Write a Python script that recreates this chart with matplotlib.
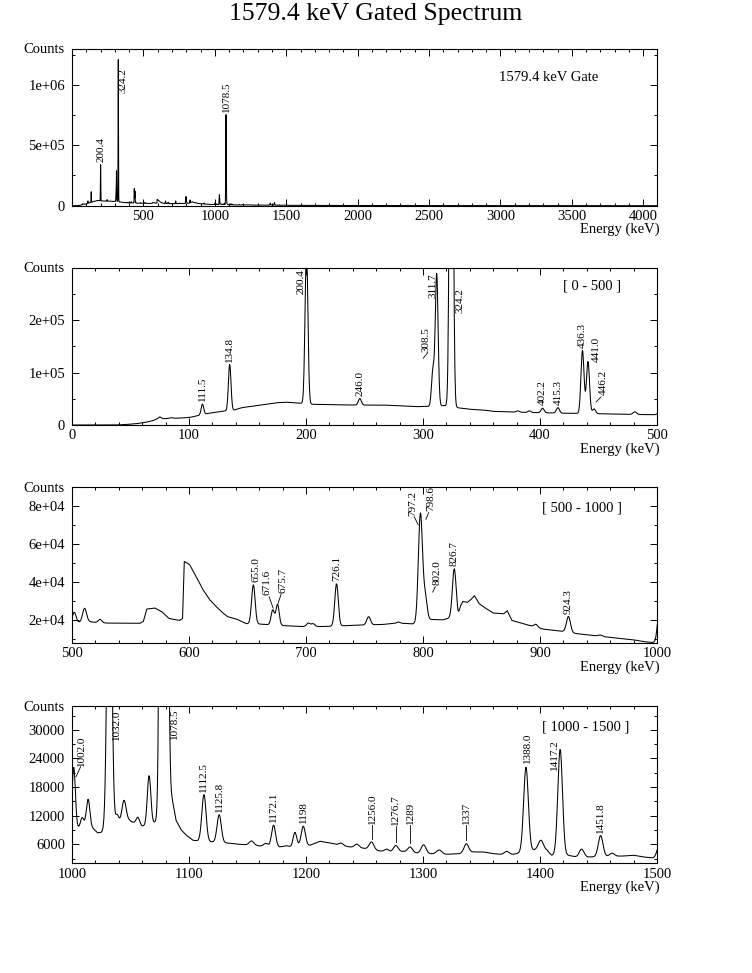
import numpy as np
import matplotlib
matplotlib.use('Agg')
import matplotlib.pyplot as plt
from matplotlib.ticker import AutoMinorLocator

plt.rcParams['font.family'] = ['Liberation Serif', 'DejaVu Serif']

# --- spectrum: background knots + peaks (keV, counts) ---
bg_energy = [0, 38, 45, 55, 61, 66, 70, 73, 75, 78, 82, 85, 88, 95, 101, 106, 116, 129, 136, 139,
             145, 160, 175, 183, 195, 206, 226, 243, 255, 267, 285, 295, 304, 318, 331, 340, 352,
             360, 380, 400, 420, 450, 470, 490, 500, 505, 515, 520, 530, 558, 561, 564, 571, 577,
             583, 592, 594.5, 596, 600.6, 606, 612, 617.7, 623, 629, 633, 640.6, 649, 660, 680,
             695, 715, 740, 766, 776, 779, 782, 791, 800, 807, 817, 821, 830, 832, 834, 838, 841,
             844, 848, 852, 860, 869, 872, 876, 886, 903, 920, 932, 952, 966, 980, 989, 996, 1000,
             1005, 1011, 1018, 1022, 1025, 1028, 1036, 1041, 1049, 1053, 1060, 1063, 1069, 1073,
             1080, 1084, 1086, 1089, 1093.4, 1097.7, 1103.4, 1108, 1119, 1132, 1143, 1160.6,
             1177.7, 1183.4, 1187.7, 1194, 1203.4, 1212, 1220.6, 1229, 1237.7, 1246, 1263, 1273,
             1283, 1294.6, 1306, 1320, 1331.7, 1343, 1351.6, 1360, 1366, 1377, 1383, 1395, 1406,
             1410, 1424, 1431.5, 1441.5, 1458.7, 1471.5, 1480, 1488.6, 1497, 1500, 1600, 1800,
             2000, 2500, 3000, 3500, 4096]
bg_counts = [0, 0, 800, 2500, 4500, 6500, 9000, 12000, 15500, 12000, 12500, 14000, 12800, 13500,
             14600, 17000, 22000, 26500, 27500, 28700, 33000, 37500, 42500, 43500, 41500, 39500,
             38500, 38000, 38000, 38000, 36000, 35000, 35500, 37000, 32500, 30000, 28500, 26000,
             24500, 23500, 22500, 21500, 20500, 19800, 19500, 19000, 19300, 19000, 18600, 18500,
             19500, 26000, 26500, 24500, 21000, 20000, 21000, 51000, 49300, 43200, 36100, 30900,
             27400, 23900, 22000, 20700, 18300, 18100, 17300, 16800, 16800, 17400, 17900, 18500,
             19200, 18500, 18200, 19000, 20500, 20300, 21000, 22000, 27500, 30000, 29500, 31000,
             33000, 28800, 27000, 23900, 23500, 25100, 20000, 18200, 15400, 14200, 13000, 11600,
             10700, 9800, 8800, 8400, 9000, 9400, 9700, 9300, 8400, 8500, 9000, 9800, 10500,
             11000, 10500, 9800, 9900, 10300, 11000, 14000, 17000, 15000, 11000, 9000, 7900, 6840,
             6700, 6500, 6280, 6000, 5650, 5440, 5700, 5440, 5800, 5790, 6630, 6280, 5790, 5440,
             5300, 4600, 4390, 4500, 4170, 4030, 3900, 4030, 4390, 4390, 4030, 3900, 3900, 4200,
             4800, 4700, 3680, 3680, 3330, 3330, 3470, 3540, 3700, 3330, 3120, 3200, 2500, 1800,
             1400, 900, 600, 400, 200]

peak_energy = [111.5, 134.8, 200.4, 246.0, 308.5, 311.7, 324.2, 381.0, 391.0, 402.2, 415.3,
               436.3, 441.0, 446.2, 481.0, 502.0, 510.8, 524.0, 655.0, 671.6, 675.7, 702.0,
               706.0, 726.1, 753.5, 797.2, 798.6, 802.0, 826.7, 896.5, 924.3, 951.5, 1001.5,
               1008.7, 1013.8, 1032.0, 1038.5, 1044.5, 1056.3, 1065.9, 1078.5, 1112.8, 1125.8,
               1153.5, 1165.7, 1172.3, 1190.5, 1197.7, 1230.0, 1243.4, 1256.0, 1269.0, 1276.7,
               1289.0, 1300.5, 1313.8, 1337.0, 1371.5, 1388.0, 1400.7, 1417.2, 1435.5, 1451.8,
               1461.5, 1502.0]
peak_height = [20000, 88000, 300000, 12500, 68000, 251000, 1175000, 2500, 3000, 8500, 10300,
               120000, 99000, 9000, 5000, 5000, 7200, 1700, 20500, 7800, 10900, 1800,
               1500, 22200, 4300, 35000, 28000, 12400, 25500, 1500, 8300, 700, 13000,
               2000, 5900, 81000, 2000, 4500, 1500, 10300, 740000, 9800, 5800,
               900, 600, 4500, 2900, 4000, 500, 700, 1600, 500, 1300,
               1100, 1800, 850, 1900, 600, 17700, 2100, 22200, 1650, 4400,
               650, 2500]
peak_sigma = [1.1, 1.1, 1.2, 1.3, 1.2, 1.2, 1.3, 1.3, 1.3, 1.3, 1.3,
              1.3, 1.3, 1.3, 1.5, 1.5, 1.7, 1.5, 1.5, 1.4, 1.4, 1.5,
              1.5, 1.5, 1.6, 1.6, 1.6, 1.6, 1.6, 1.5, 1.7, 1.7, 1.4,
              1.4, 1.5, 1.8, 1.4, 1.8, 1.5, 1.5, 1.8, 1.8, 1.8,
              2.0, 1.8, 1.7, 1.5, 1.7, 1.8, 1.8, 2.0, 1.8, 2.0,
              2.0, 2.0, 2.2, 2.0, 2.0, 2.0, 2.2, 2.0, 2.0, 2.0,
              2.0, 2.0]

# --- panels ---
panel_xlim = [(0, 4096), (0, 500), (500, 1000), (1000, 1500)]
panel_ylim = [(0, 1.3e6), (0, 3.0e5), (8000, 90000), (2000, 35000)]
panel_xticks = [list(range(500, 4001, 500)), list(range(0, 501, 100)),
                list(range(500, 1001, 100)), list(range(1000, 1501, 100))]
panel_yticks = [[0, 5e5, 1e6], [0, 1e5, 2e5], [2e4, 4e4, 6e4, 8e4],
                [6000, 12000, 18000, 24000, 30000]]
panel_yticklabels = [['0', '5e+05', '1e+06'], ['0', '1e+05', '2e+05'],
                     ['2e+04', '4e+04', '6e+04', '8e+04'],
                     ['6000', '12000', '18000', '24000', '30000']]
panel_tag = ['1579.4 keV Gate', '[ 0 - 500 ]', '[ 500 - 1000 ]', '[ 1000 - 1500 ]']
panel_peaks = [
    ['200.4', '324.2', '1078.5'],
    ['111.5', '134.8', '200.4', '246.0', '308.5', '311.7', '324.2', '402.2', '415.3',
     '436.3', '441.0', '446.2'],
    ['655.0', '671.6', '675.7', '726.1', '797.2', '798.6', '802.0', '826.7', '924.3'],
    ['1002.0', '1032.0', '1078.5', '1112.5', '1125.8', '1172.1', '1198', '1256.0',
     '1276.7', '1289', '1337', '1388.0', '1417.2', '1451.8'],
]

# label placement, pixels relative to the peak top: dx, dy, va, leader (x0, y0, x1, y1)
placement = [
    {'324.2': (5, -8, 'top', None)},
    {'200.4': (-5, -1, 'top', None),
     '308.5': (-7, 15, 'bottom', (-9.7, 8.5, -5.3, 14)),
     '311.7': (-4, 0, 'top', None),
     '324.2': (9, -20, 'top', None),
     '441.0': (8, 0, 'bottom', None),
     '446.2': (9, 14, 'bottom', (2, 7, 7, 12))},
    {'655.0': (3, 3, 'bottom', None),
     '671.6': (-5.5, 15, 'bottom', (0.4, 1.7, -3.6, 13)),
     '675.7': (5, 11, 'bottom', (0.5, 1, 3.5, 10)),
     '797.2': (-7, 4, 'bottom', (-1.5, -5, -5.5, 3)),
     '798.6': (9.5, 10.5, 'bottom', (4.6, 2.4, 7.3, 9)),
     '802.0': (11.7, 6.8, 'bottom', (7.4, -0.5, 10, 5))},
    {'1002.0': (7.4, 5, 'bottom', (1.7, -5.7, 6.4, 4.5)),
     '1032.0': (7, -4, 'top', None),
     '1078.5': (11, -2, 'top', None),
     '1256.0': (1, 18, 'bottom', (0, 3.3, 0, 16.5)),
     '1276.7': (0, 21, 'bottom', (0, 3.2, 0, 20)),
     '1289': (0, 23, 'bottom', (0, 3.5, 0, 22)),
     '1337': (0, 20, 'bottom', (0, 4, 0, 19)),
     '1388.0': (2, 4, 'bottom', None),
     '1417.2': (-6, 10, 'top', None)},
]

rects = [(0.0957, 0.7886, 0.778, 0.1614), (0.0957, 0.5632, 0.778, 0.1617),
         (0.0957, 0.3389, 0.778, 0.1603), (0.0957, 0.1127, 0.778, 0.1617)]
tag_pos = [(0.73, 0.815), (0.84, 0.885), (0.803, 0.865), (0.803, 0.865)]

energy = np.arange(0, 4096.25, 0.25)
counts = np.interp(energy, bg_energy, bg_counts)
for e, h, s in zip(peak_energy, peak_height, peak_sigma):
    counts += h * np.exp(-0.5 * ((energy - e) / s) ** 2)

fig = plt.figure(figsize=(7.52, 9.73), dpi=100)
fig.text(0.5, 1 - 14 / 973, '1579.4 keV Gated Spectrum', ha='center', va='center', fontsize=18.5)

for i in range(4):
    ax = fig.add_axes(rects[i])
    ax.plot(energy, counts, color='black', lw=0.75)
    ax.set_xlim(*panel_xlim[i])
    ax.set_ylim(*panel_ylim[i])
    ax.set_xticks(panel_xticks[i])
    ax.set_yticks(panel_yticks[i])
    ax.set_yticklabels(panel_yticklabels[i])
    ax.xaxis.set_minor_locator(AutoMinorLocator(5))
    ax.yaxis.set_minor_locator(AutoMinorLocator(2))
    ax.tick_params(which='both', direction='in', top=True, right=True, width=0.7, labelsize=10.5)
    ax.tick_params(which='major', length=5)
    ax.tick_params(which='minor', length=2.5)
    ax.tick_params(axis='x', pad=3)
    ax.tick_params(axis='y', pad=5)
    for sp in ax.spines.values():
        sp.set_linewidth(0.8)

    ax.annotate('Counts', xy=(0, 1), xycoords='axes fraction', xytext=(-7, -1),
                textcoords='offset pixels', ha='right', va='center', fontsize=10.5)
    ax.annotate('Energy (keV)', xy=(1, 0), xycoords='axes fraction', xytext=(3, -24),
                textcoords='offset pixels', ha='right', va='center', fontsize=10.5)
    ax.text(tag_pos[i][0], tag_pos[i][1], panel_tag[i], transform=ax.transAxes,
            ha='left', va='center', fontsize=10.5)

    # data units per pixel
    x0, x1 = panel_xlim[i]
    y0, y1 = panel_ylim[i]
    sx = (x1 - x0) / (rects[i][2] * 752)
    sy = (y1 - y0) / (rects[i][3] * 973)

    for lab in panel_peaks[i]:
        e = float(lab)
        top = min(np.interp(e, energy, counts), y1)
        dx, dy, va, lead = placement[i].get(lab, (0, 3, 'bottom', None))
        ax.annotate(lab, xy=(e, top), xytext=(dx, dy), textcoords='offset pixels',
                    rotation=90, ha='center', va=va, fontsize=8)
        if lead is not None:
            ax.plot([e + lead[0] * sx, e + lead[2] * sx],
                    [top + lead[1] * sy, top + lead[3] * sy], color='black', lw=0.6)

fig.savefig('out.png', dpi=100)
